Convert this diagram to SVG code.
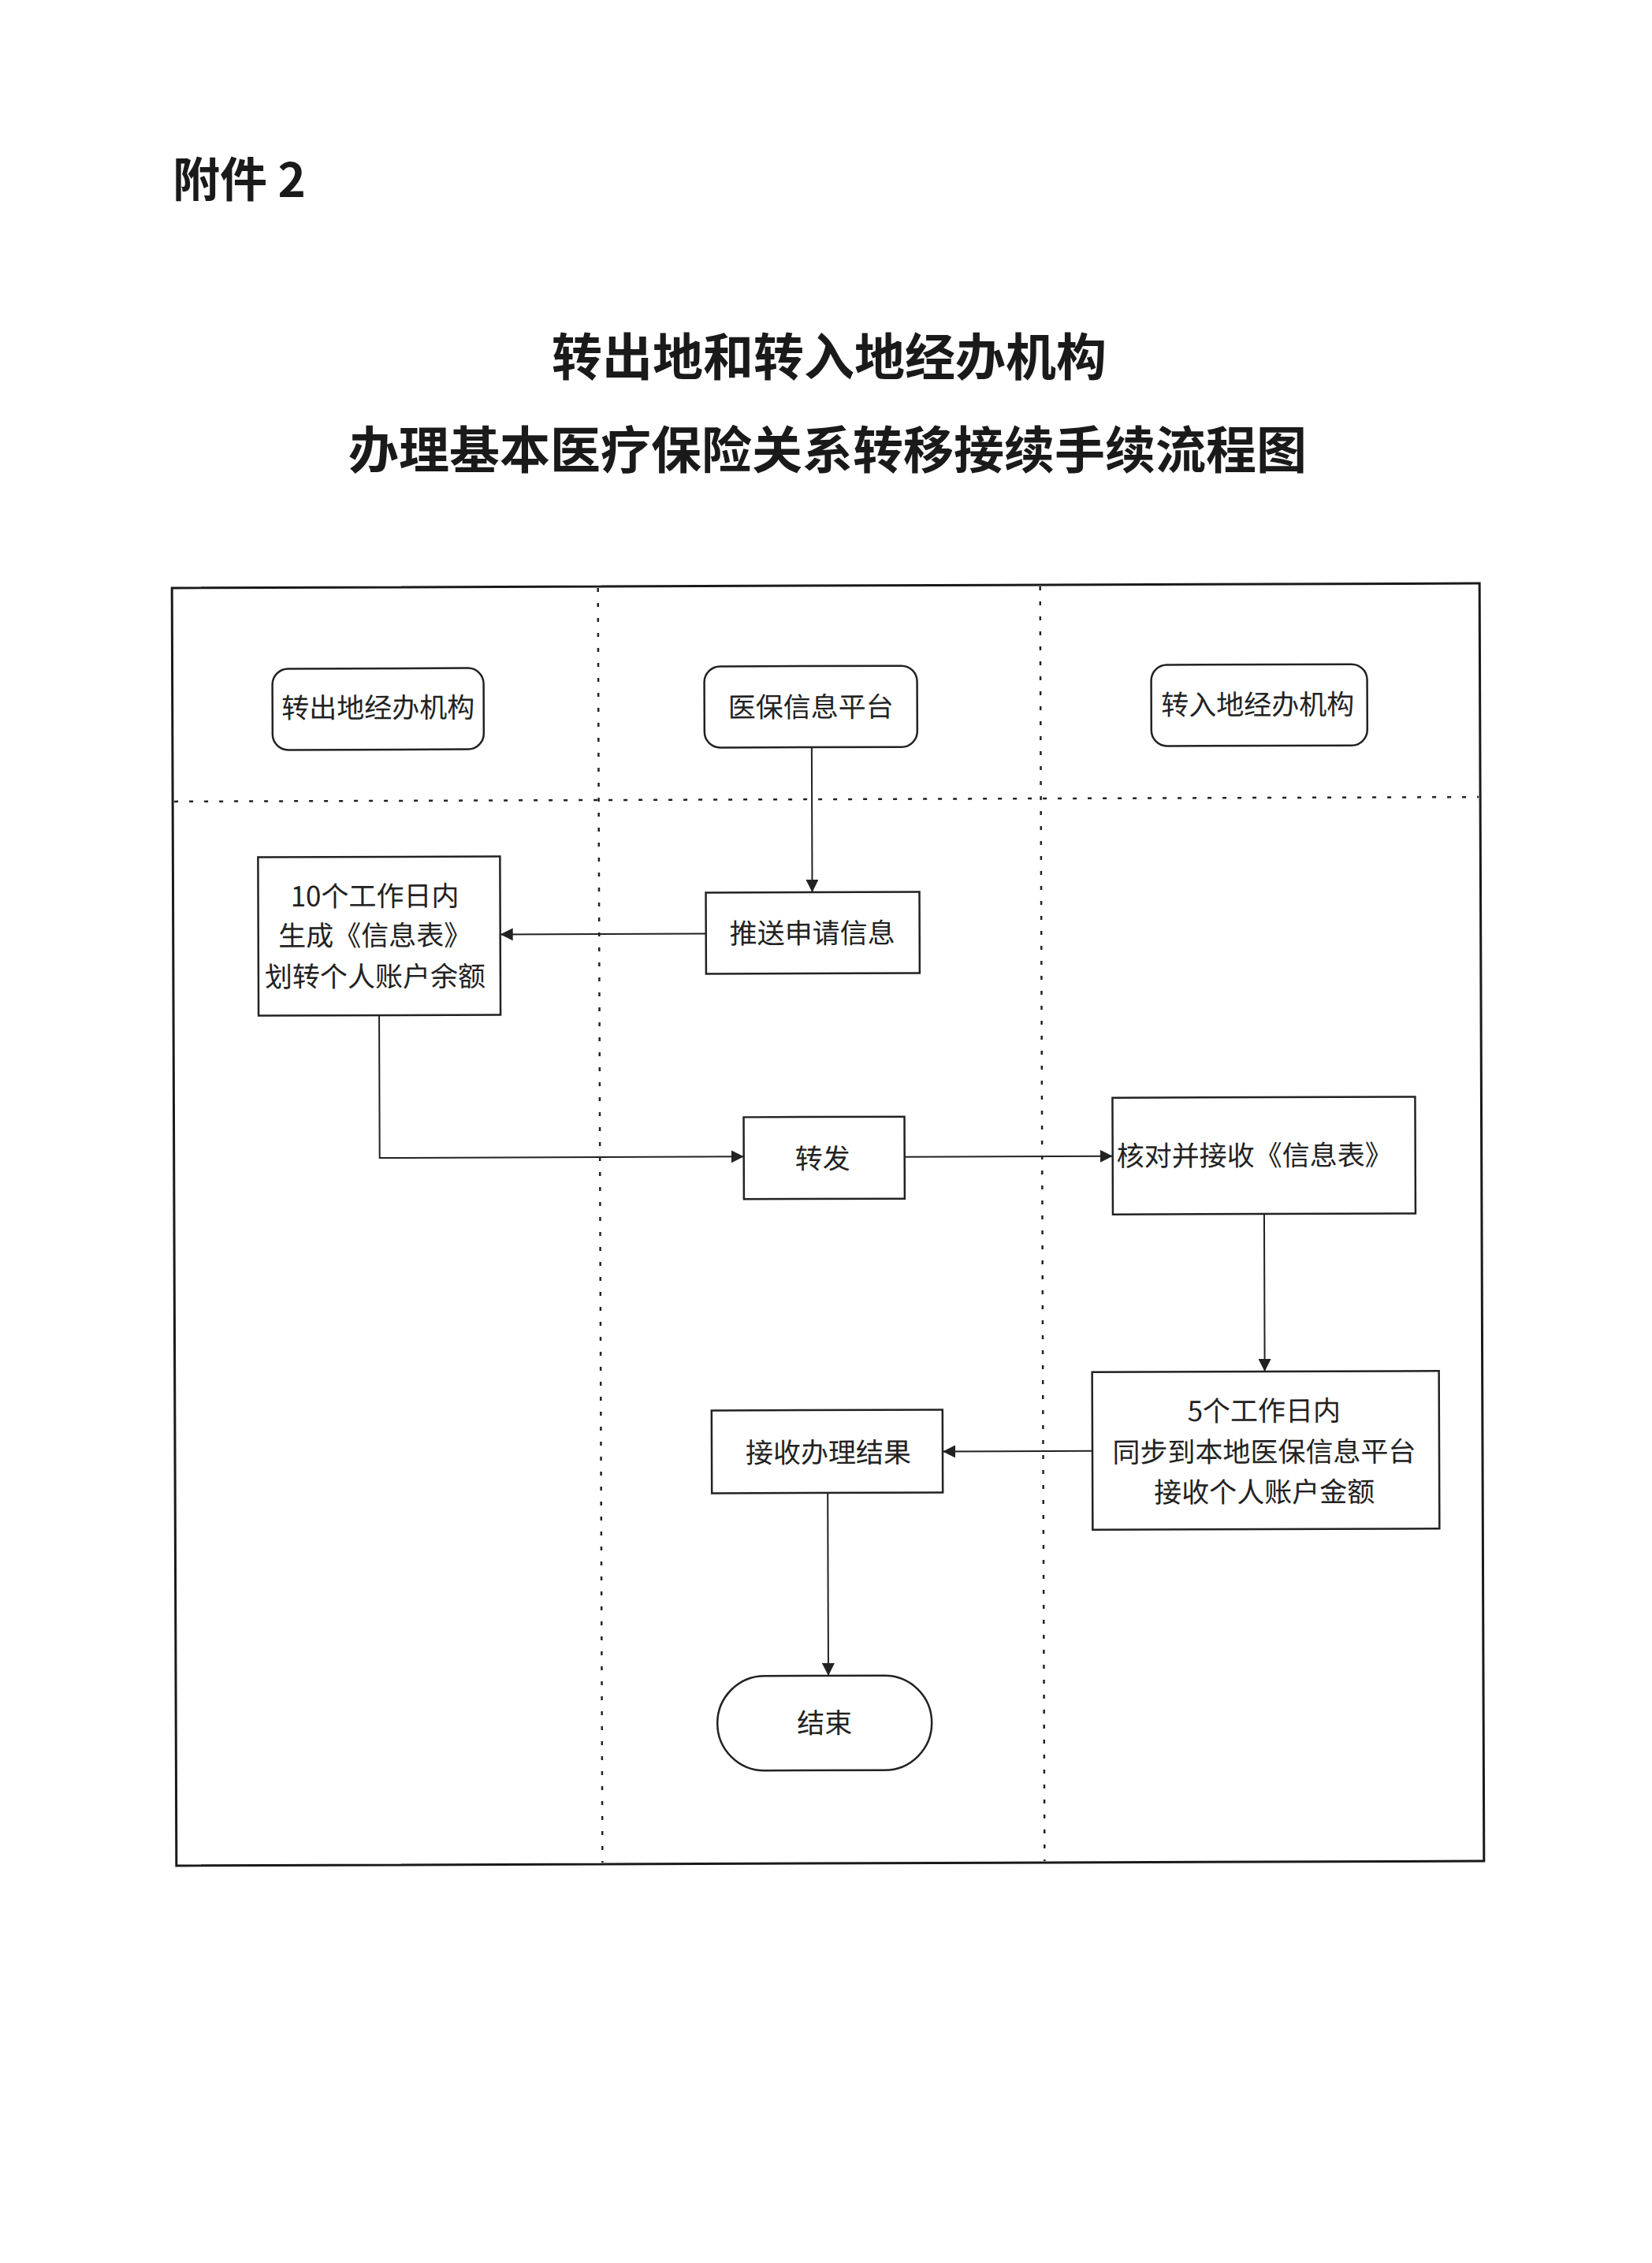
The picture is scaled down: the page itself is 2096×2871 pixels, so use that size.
<svg xmlns="http://www.w3.org/2000/svg" width="2096" height="2871" viewBox="0 0 2096 2871">
<defs>
<marker id="arr" viewBox="0 0 16 16" refX="16" refY="8" markerWidth="16" markerHeight="16" markerUnits="userSpaceOnUse" orient="auto">
<path d="M0,0 L16,8 L0,16 Z" fill="#222"/>
</marker>
<style>
.title{font-family:"Noto Sans CJK SC","Noto Sans",sans-serif;font-weight:700;fill:#1a1a1a}
.t{font-family:"Noto Sans CJK SC","Noto Sans",sans-serif;font-size:35px;fill:#222;text-anchor:middle;dominant-baseline:central}
.box{fill:#fff;stroke:#222;stroke-width:2.5}
.lane{fill:none;stroke:#222;stroke-width:2.5;stroke-dasharray:5 14}
.frame{fill:none;stroke:#1a1a1a;stroke-width:3}
.c{fill:none;stroke:#222;stroke-width:2;marker-end:url(#arr)}
</style>
</defs>
<rect width="2096" height="2871" fill="#fff"/>
<text class="title" x="219" y="223" font-size="60" dominant-baseline="central">附件 2</text>
<text class="title" x="1052" y="448" font-size="64" text-anchor="middle" dominant-baseline="central">转出地和转入地经办机构</text>
<text class="title" x="1050" y="566" font-size="64" text-anchor="middle" dominant-baseline="central">办理基本医疗保险关系转移接续手续流程图</text>
<g transform="rotate(-0.2 1050 1555)">
<g id="frame">
<rect class="frame" x="221" y="743" width="1659" height="1621"/>
<line class="lane" x1="761.5" y1="745" x2="761.5" y2="2362"/>
<line class="lane" x1="1322.5" y1="745" x2="1322.5" y2="2362"/>
<line class="lane" x1="223" y1="1014" x2="1878" y2="1014"/>
</g>
<g id="connectors">
<path class="c" d="M1032,948 L1032,1132"/>
<path class="c" d="M897,1184 L636,1184"/>
<path class="c" d="M482,1286 L482,1467 L944,1467"/>
<path class="c" d="M1148,1468 L1412,1468"/>
<path class="c" d="M1604,1542 L1604,1742"/>
<path class="c" d="M1385,1842 L1195,1842"/>
<path class="c" d="M1049,1894 L1049,2126"/>
</g>
<g id="n-out">
<rect class="box" x="348" y="846" width="268" height="103" rx="20"/>
<text class="t" x="482" y="893">转出地经办机构</text>
</g>
<g id="n-platform">
<rect class="box" x="896" y="845" width="270" height="103" rx="20"/>
<text class="t" x="1031" y="894">医保信息平台</text>
</g>
<g id="n-in">
<rect class="box" x="1463" y="845" width="274" height="103" rx="20"/>
<text class="t" x="1598" y="893">转入地经办机构</text>
</g>
<g id="n-gen">
<rect class="box" x="329" y="1085" width="307" height="201"/>
<text class="t" x="477" y="1132">10个工作日内</text>
<text class="t" x="477" y="1182">生成《信息表》</text>
<text class="t" x="477" y="1234">划转个人账户余额</text>
</g>
<g id="n-push">
<rect class="box" x="897" y="1132" width="271" height="103"/>
<text class="t" x="1032" y="1181">推送申请信息</text>
</g>
<g id="n-forward">
<rect class="box" x="944" y="1417" width="204" height="104"/>
<text class="t" x="1044" y="1467">转发</text>
</g>
<g id="n-check">
<rect class="box" x="1412" y="1394" width="384" height="148"/>
<text class="t" x="1592" y="1465">核对并接收《信息表》</text>
</g>
<g id="n-sync">
<rect class="box" x="1385" y="1742" width="440" height="200"/>
<text class="t" x="1603" y="1789">5个工作日内</text>
<text class="t" x="1603" y="1841">同步到本地医保信息平台</text>
<text class="t" x="1603" y="1892">接收个人账户金额</text>
</g>
<g id="n-result">
<rect class="box" x="902" y="1789" width="293" height="105"/>
<text class="t" x="1050" y="1840">接收办理结果</text>
</g>
<g id="n-end">
<rect class="box" x="908" y="2126" width="272" height="120" rx="60"/>
<text class="t" x="1044" y="2183">结束</text>
</g>
</g>
</svg>
